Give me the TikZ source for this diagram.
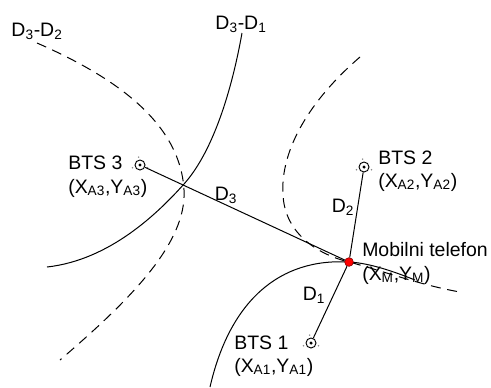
\documentclass[tikz,border=0pt]{standalone}
\usepackage{fontspec}
\setmainfont{Liberation Sans}

\begin{document}
\begin{tikzpicture}[x=0.75pt,y=-0.75pt,
    lbl/.style={font=\fontsize{14.6}{17}\selectfont,inner sep=0pt},
    bts/.style={circle,draw,line width=0.7pt,inner sep=0pt,minimum size=7.5pt},
    hyp/.style={line width=0.75pt},
    hypd/.style={line width=0.75pt,dash pattern=on 7.5pt off 5pt}]
        \useasboundingbox (0,0) rectangle (491,387);

        %------------------
        % hyperbolas
        %------------------

        % D3-D1 (solid)
        \draw[hyp] (242,33) .. controls (230,100) and (210,155) .. (184,184)
                            .. controls (158,213) and (110,260) .. (47,267);
        % D3-D2 (dashed)
        \draw[hypd] (37,43) .. controls (110,75) and (180,120) .. (184,190)
                            .. controls (187,243) and (130,300) .. (60,360);
        % right dashed branch
        \draw[hypd] (360,57) .. controls (310,100) and (280,150) .. (283,195)
                             .. controls (285,235) and (320,255) .. (349,262)
                             .. controls (380,270) and (420,285) .. (460,292);
        % lower solid branch
        \draw[hyp] (210,387) .. controls (230,300) and (280,258) .. (349,262)
                             .. controls (370,263) and (395,272) .. (415,280);

        %------------------
        % stations
        %------------------

        \node[bts] (bts3) at (140,165) {};
        \node[bts] (bts2) at (364,167) {};
        \node[bts] (bts1) at (311,343) {};
        \foreach \b in {bts1,bts2,bts3}{
          \fill (\b) circle (1.3pt);
          \foreach \a in {20,160,260}
            \fill[black!45] (\b) ++(\a:8) circle (0.6pt);
        }

        % mobile phone
        \node[circle,fill=red,draw=red!55!black,line width=0.5pt,
              inner sep=0pt,minimum size=6.5pt] (ms) at (349,262) {};

        % distances
        \draw[line width=0.75pt] (bts3) -- (ms);
        \draw[line width=0.75pt] (bts2) -- (ms);
        \draw[line width=0.75pt] (bts1) -- (ms);

        %------------------
        % labels
        %------------------

        \node[lbl] (tD3D2) at (37,31) {D\textsubscript{3}-D\textsubscript{2}};
        \node[lbl] (tD3D1) at (241,24) {D\textsubscript{3}-D\textsubscript{1}};
        \node[lbl,anchor=west] (tbts3) at (68,163) {BTS 3};
        \node[lbl,anchor=west] (tpos3) at (68,188) {(X\textsubscript{A3},Y\textsubscript{A3})};
        \node[lbl,anchor=west] (tbts2) at (378,158) {BTS 2};
        \node[lbl,anchor=west] (tpos2) at (378,182) {(X\textsubscript{A2},Y\textsubscript{A2})};
        \node[lbl,anchor=west] (tbts1) at (234,343) {BTS 1};
        \node[lbl,anchor=west] (tpos1) at (234,367) {(X\textsubscript{A1},Y\textsubscript{A1})};
        \node[lbl,anchor=west] (tms) at (362,250) {Mobilni telefon};
        \node[lbl,anchor=west] (tposm) at (362,275) {(X\textsubscript{M},Y\textsubscript{M})};
        \node[lbl] (tD3) at (226,195) {D\textsubscript{3}};
        \node[lbl] (tD2) at (343,207) {D\textsubscript{2}};
        \node[lbl] (tD1) at (314,295) {D\textsubscript{1}};
      \end{tikzpicture}
\end{document}
